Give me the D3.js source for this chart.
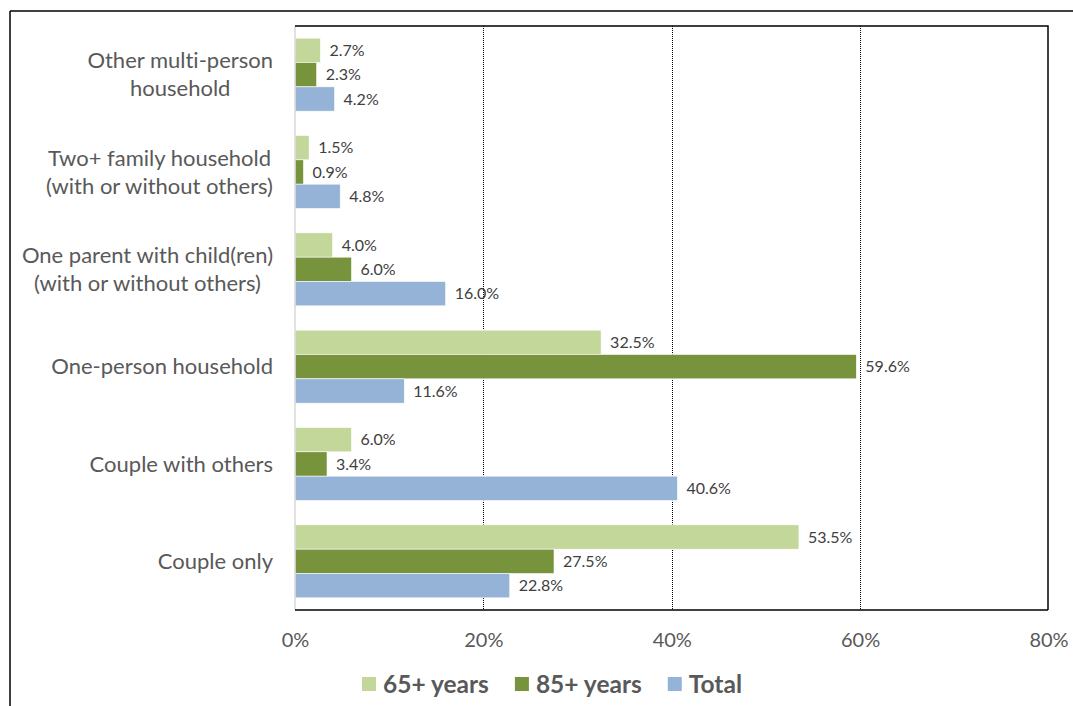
<!DOCTYPE html>
<html><head><meta charset="utf-8">
<script src="https://cdn.jsdelivr.net/npm/d3@7/dist/d3.min.js"></script>
<style>
html,body{margin:0;padding:0;background:#fff;}
svg{display:block;}
text{font-family:Lato,"Open Sans",sans-serif;font-variant-ligatures:none;}
</style></head>
<body>
<svg id="chart" width="1073" height="706"></svg>
<script>
const categories = [
  ["Other multi-person", "household"],
  ["Two+ family household", "(with or without others)"],
  ["One parent with child(ren)", "(with or without others)"],
  ["One-person household"],
  ["Couple with others"],
  ["Couple only"]
];
const seriesNames = ["65+ years", "85+ years", "Total"];
const values65 = [2.7, 1.5, 4.0, 32.5, 6.0, 53.5];
const values85 = [2.3, 0.9, 6.0, 59.6, 3.4, 27.5];
const valuesTotal = [4.2, 4.8, 16.0, 11.6, 40.6, 22.8];
const xTicks = [0, 20, 40, 60, 80];
const colors = ["#c4d79b", "#77933c", "#95b3d7"];

const series = [values65, values85, valuesTotal];
const catKeys = categories.map(c => c.join(" "));

const svg = d3.select("#chart");
const L = 295, R = 1048, T = 26, B = 610;
const x = d3.scaleLinear().domain([0, 80]).range([L, R + 0.5]);
const y = d3.scaleBand().domain(catKeys).range([T, B]).paddingInner(0.25).paddingOuter(0.125);
const yInner = d3.scaleBand().domain([0,1,2]).range([0, y.bandwidth()]);

// outer frame
svg.append("line").attr("x1", 10).attr("x2", 1073).attr("y1", 11).attr("y2", 11).attr("stroke", "#000").attr("stroke-width", 1.5);
svg.append("line").attr("x1", 10).attr("x2", 10).attr("y1", 11).attr("y2", 706).attr("stroke", "#000").attr("stroke-width", 1.5);

// gridlines
svg.append("g").selectAll("line").data(xTicks.filter(t => t > 0 && t < 80)).join("line")
  .attr("x1", d => Math.round(x(d)) + 0.5).attr("x2", d => Math.round(x(d)) + 0.5)
  .attr("y1", T).attr("y2", B)
  .attr("stroke", "#000").attr("stroke-width", 1).attr("stroke-dasharray", "1,1");

// bars
const groups = svg.append("g").selectAll("g").data(catKeys).join("g")
  .attr("transform", d => `translate(0,${y(d)})`);
series.forEach((vals, si) => {
  groups.append("rect")
    .attr("x", x(0))
    .attr("y", yInner(si))
    .attr("width", (d, i) => x(vals[i]) - x(0))
    .attr("height", yInner.bandwidth())
    .attr("fill", colors[si])
    .attr("stroke", "#fff").attr("stroke-width", 0.6);
  groups.append("text")
    .attr("x", (d, i) => x(vals[i]) + 9)
    .attr("y", yInner(si) + yInner.bandwidth() / 2)
    .attr("dy", "0.35em")
    .attr("font-size", 16)
    .attr("fill", "#404040")
    .text((d, i) => vals[i].toFixed(1) + "%");
});

// plot border
svg.append("line").attr("x1", L).attr("x2", L).attr("y1", T).attr("y2", B).attr("stroke", "#d9d9d9").attr("stroke-width", 1.5);
svg.append("path").attr("d", `M${L},${T}H${R}V${B}`).attr("fill", "none").attr("stroke", "#000").attr("stroke-width", 1.5);
svg.append("line").attr("x1", L).attr("x2", R).attr("y1", B).attr("y2", B).attr("stroke", "#000").attr("stroke-width", 1.5);

// x axis
const xAxis = svg.append("g").attr("transform", `translate(0,${B})`)
  .call(d3.axisBottom(x).tickValues(xTicks).tickSize(0).tickPadding(23).tickFormat(d => d + "%"));
xAxis.select(".domain").remove();
xAxis.selectAll("text").attr("font-size", 20).attr("fill", "#595959").attr("font-family", "Lato,'Open Sans',sans-serif");

// category labels: block right-aligned, lines centred within block
const labelRight = 273;
const catLabels = svg.append("g").selectAll("text").data(categories).join("text")
  .attr("text-anchor", "middle")
  .attr("font-size", 22)
  .attr("fill", "#595959");
catLabels.each(function(lines, i) {
  const n = lines.length;
  const sel = d3.select(this);
  sel.selectAll("tspan").data(lines).join("tspan")
    .attr("x", 0)
    .attr("y", (l, j) => (j - (n - 1) / 2) * 28)
    .attr("dy", "0.35em")
    .text(l => l);
  let maxW = 0;
  sel.selectAll("tspan").each(function() { maxW = Math.max(maxW, this.getComputedTextLength()); });
  sel.attr("transform", `translate(${labelRight - maxW / 2},${y(catKeys[i]) + y.bandwidth() / 2})`);
});

// legend
const legend = svg.append("g").attr("transform", "translate(362,684)");
let lx = 0;
seriesNames.forEach((name, i) => {
  legend.append("rect").attr("x", lx).attr("y", -7).attr("width", 14).attr("height", 14).attr("fill", colors[i]);
  const t = legend.append("text").attr("x", lx + 21).attr("y", 0).attr("dy", "0.35em")
    .attr("font-size", 24.5).attr("font-weight", "bold").attr("fill", "#595959").text(name);
  lx += 21 + t.node().getComputedTextLength() + 26;
});
</script>
</body></html>
